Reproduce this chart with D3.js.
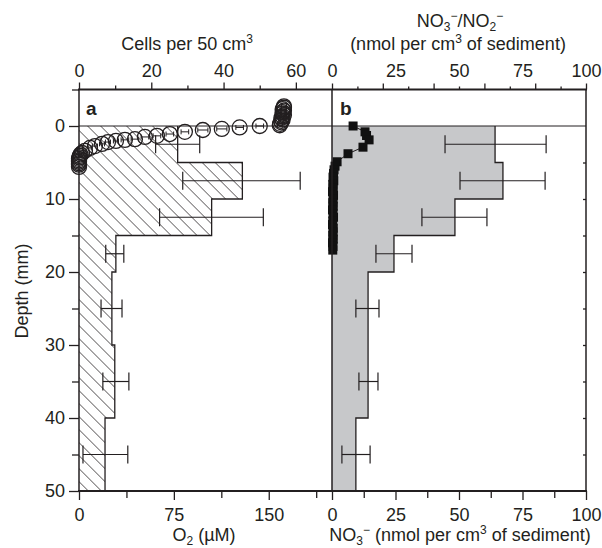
<!DOCTYPE html>
<html>
<head>
<meta charset="utf-8">
<script src="https://cdn.jsdelivr.net/npm/d3@7"></script>
<style>
body { margin: 0; background: #fff; }
svg text { font-family: "Liberation Sans", Arial, Helvetica, sans-serif; fill: #231f20; }
</style>
</head>
<body>
<div id="chart"></div>
<script>
// depth bins (mm) shared by both histograms
const binTop = [0, 5, 10, 15, 20, 30, 40];
const binBottom = [5, 10, 15, 20, 30, 40, 50];
const binMid = [2.5, 7.5, 12.5, 17.5, 25, 35, 45];

// panel a: cells per 50 cm3
const cells = [27.3, 45.2, 36.7, 10.2, 9.1, 9.9, 7.2];
const cellsLo = [21.2, 28.7, 22.3, 7.4, 6.1, 6.6, 1.1];
const cellsHi = [33.4, 61.2, 51.0, 12.4, 11.9, 13.8, 13.5];

// panel a: O2 microprofile (uM) with small error half-widths
const o2Depth = [-2.7, -2.5, -2.3, -2.1, -1.9, -1.7, -1.5, -1.3, -1.1, -0.9, -0.7, -0.5, -0.3, -0.1,
    0.0, 0.2, 0.4, 0.55, 0.8, 1.1, 1.35, 1.5, 1.8, 1.9, 2.05, 2.2, 2.45, 2.75, 3.0, 3.4,
    3.7, 3.9, 4.1, 4.3, 4.5, 4.7, 4.9, 5.1, 5.3, 5.6];
const o2 = [162, 162, 161, 162, 161, 161, 162, 161, 160, 161, 160, 160, 159, 158.7,
    142.9, 127, 112.9, 97.9, 83.7, 71.8, 61.6, 52.1, 44.2, 36.3, 29.2, 22.9, 18.2, 12.6, 8.7, 4.7,
    2.4, 1.2, 0.6, 0.3, 0, 0, 0, 0, 0, 0];
const o2Err = [2, 2, 2, 2, 2, 2, 2, 2, 2, 2, 2, 2, 2, 2,
    3, 3, 4, 4, 3, 3, 3, 3, 3, 3, 2, 2, 2, 2, 1, 1,
    1, 1, 1, 0, 0, 0, 0, 0, 0, 0];

// panel b: NO3- (nmol per cm3 of sediment)
const nitrate = [64.2, 67.3, 48.4, 24.4, 14.2, 14.2, 9.4];
const nitrateLo = [44.5, 50.4, 35.4, 17.3, 9.4, 10.6, 3.9];
const nitrateHi = [84.3, 83.9, 61.0, 31.5, 18.5, 18.1, 15.0];

// panel b: NO3-/NO2- microprofile
const noxDepth = [0.0, 0.8, 1.3, 1.9, 2.9, 3.8, 4.9, 5.5, 6.0, 6.5, 7.0, 7.5, 8.0, 8.5, 9.0, 9.5,
    10.0, 10.5, 11.0, 11.5, 12.0, 12.5, 13.0, 13.5, 14.0, 14.5, 15.0, 15.5, 16.0, 16.5, 17.0];
const nox = [8.3, 13.0, 13.6, 14.6, 12.2, 6.3, 2.0, 1.2, 0.8, 0.6, 0.4, 0.7, 0.3, 0.5, 0.2, 0.6,
    0.4, 0.3, 0.5, 0.2, 0.4, 0.6, 0.3, 0.2, 0.5, 0.4, 0.3, 0.5, 0.2, 0.4, 0.3];

const ink = "#231f20";
const fontFamily = "'Liberation Sans', Arial, Helvetica, sans-serif";

const svg = d3.select("#chart").append("svg").attr("width", 602).attr("height", 548);

const y = d3.scaleLinear().domain([-5, 50]).range([89.5, 491]);
const xO2 = d3.scaleLinear().domain([0, 200]).range([79, 332]);
const xCells = d3.scaleLinear().domain([0, 70]).range([79, 332]);
const xNO3 = d3.scaleLinear().domain([0, 100]).range([332, 586]);

svg.append("defs").append("pattern").
attr("id", "hatch").
attr("patternUnits", "userSpaceOnUse").
attr("width", 9.2).attr("height", 9.2).
attr("patternTransform", "rotate(-45)").
append("line").
attr("x1", 0).attr("y1", 0).attr("x2", 0).attr("y2", 9.2).
attr("stroke", ink).attr("stroke-width", 1.2);

function steps(vals) {
    const pts = [];
    vals.forEach((v, i) => {
        pts.push([v, binTop[i]]);
        pts.push([v, binBottom[i]]);
    });
    return pts;
}

function histogram(vals, xs, fill) {
    const pts = steps(vals);
    svg.append("path").
    attr("d", d3.area().y(d => y(d[1])).x0(xs(0)).x1(d => xs(d[0]))(pts)).
    attr("fill", fill);
    svg.append("path").
    attr("d", d3.line().x(d => xs(d[0])).y(d => y(d[1]))(pts)).
    attr("fill", "none").attr("stroke", ink).attr("stroke-width", 1.3);
}

function errorBars(lo, hi, xs) {
    const g = svg.append("g").attr("stroke", ink).attr("stroke-width", 1.2);
    binMid.forEach((d, i) => {
        g.append("line").attr("x1", xs(lo[i])).attr("x2", xs(hi[i])).attr("y1", y(d)).attr("y2", y(d));
        g.append("line").attr("x1", xs(lo[i])).attr("x2", xs(lo[i])).attr("y1", y(d) - 9).attr("y2", y(d) + 9);
        g.append("line").attr("x1", xs(hi[i])).attr("x2", xs(hi[i])).attr("y1", y(d) - 9).attr("y2", y(d) + 9);
    });
}

histogram(cells, xCells, "url(#hatch)");
histogram(nitrate, xNO3, "#c7c8ca");
errorBars(cellsLo, cellsHi, xCells);
errorBars(nitrateLo, nitrateHi, xNO3);

// sediment surface
svg.append("line").
attr("x1", 79).attr("x2", 586).attr("y1", y(0)).attr("y2", y(0)).
attr("stroke", ink).attr("stroke-width", 1);

// O2 circles with tiny error bars
const o2g = svg.append("g").attr("stroke", ink);
o2.forEach((v, i) => {
    if (o2Err[i] === 0) return;
    const cy = y(o2Depth[i]);
    o2g.append("line").attr("x1", xO2(v - o2Err[i])).attr("x2", xO2(v + o2Err[i])).attr("y1", cy).attr("y2", cy).attr("stroke-width", 1);
    o2g.append("line").attr("x1", xO2(v - o2Err[i])).attr("x2", xO2(v - o2Err[i])).attr("y1", cy - 2.5).attr("y2", cy + 2.5).attr("stroke-width", 1);
    o2g.append("line").attr("x1", xO2(v + o2Err[i])).attr("x2", xO2(v + o2Err[i])).attr("y1", cy - 2.5).attr("y2", cy + 2.5).attr("stroke-width", 1);
});
o2g.selectAll("circle").data(o2).join("circle").
attr("cx", d => xO2(d)).
attr("cy", (d, i) => y(o2Depth[i])).
attr("r", 7.5).
attr("fill", "none").attr("stroke-width", 1.3);

// NOx squares
const noxPts = nox.map((v, i) => [v, noxDepth[i]]);
svg.append("path").
attr("d", d3.line().x(d => xNO3(d[0])).y(d => y(d[1]))(noxPts)).
attr("fill", "none").attr("stroke", ink).attr("stroke-width", 1);
svg.append("g").selectAll("rect").data(noxPts).join("rect").
attr("x", d => xNO3(d[0]) - 4.5).
attr("y", d => y(d[1]) - 4.5).
attr("width", 9).attr("height", 9).
attr("fill", "#111");

// axes
function drawAxis(gen, tx, ty) {
    const g = svg.append("g").attr("transform", "translate(" + tx + "," + ty + ")").call(gen);
    g.select(".domain").remove();
    g.attr("font-size", 18).attr("font-family", fontFamily);
    g.selectAll("line").attr("stroke", ink).attr("stroke-width", 1.3);
    g.selectAll("text").attr("fill", ink);
    return g;
}

// bottom
drawAxis(d3.axisBottom(xO2).tickValues([0, 75, 150]).tickSize(9).tickPadding(8), 0, 491);
drawAxis(d3.axisBottom(xO2).tickValues([37.5, 112.5, 187.5]).tickSize(7).tickFormat(""), 0, 491);
drawAxis(d3.axisBottom(xNO3).tickValues([0, 25, 50, 75, 100]).tickSize(9).tickPadding(8), 0, 491);
drawAxis(d3.axisBottom(xNO3).tickValues([12.5, 37.5, 62.5, 87.5]).tickSize(7).tickFormat(""), 0, 491);
// top
drawAxis(d3.axisTop(xCells).tickValues([0, 20, 40, 60]).tickSize(7).tickPadding(5.5), 0, 89.5);
drawAxis(d3.axisTop(xCells).tickValues([10, 30, 50]).tickSize(4).tickFormat(""), 0, 89.5);
drawAxis(d3.axisTop(xNO3).tickValues([0, 20, 40, 60, 80, 100]).tickSize(6).tickFormat(""), 0, 89.5);
drawAxis(d3.axisTop(xNO3).tickValues([10, 30, 50, 70, 90]).tickSize(3).tickFormat(""), 0, 89.5);
drawAxis(d3.axisTop(xNO3).tickValues([0, 25, 50, 75, 100]).tickSize(0).tickPadding(12.5), 0, 89.5);
// left
drawAxis(d3.axisLeft(y).tickValues([0, 10, 20, 30, 40, 50]).tickSize(10).tickPadding(4), 79, 0);
drawAxis(d3.axisLeft(y).tickValues([-5, 5, 15, 25, 35, 45]).tickSize(7).tickFormat(""), 79, 0);
// right (inward)
drawAxis(d3.axisRight(y).tickValues([5, 10, 15, 20, 25, 30, 35, 40, 45]).tickSize(-3).tickFormat(""), 586, 0);

// frame
const frame = svg.append("g").attr("stroke", ink);
frame.append("line").attr("x1", 78).attr("x2", 587).attr("y1", y(-5)).attr("y2", y(-5)).attr("stroke-width", 2);
frame.append("line").attr("x1", 78).attr("x2", 587).attr("y1", y(50)).attr("y2", y(50)).attr("stroke-width", 2);
[79, 332, 586].forEach(x => {
    frame.append("line").attr("x1", x).attr("x2", x).attr("y1", y(-5)).attr("y2", y(50)).attr("stroke-width", 1.5);
});

// labels
function richText(x, yy, parts, rotate) {
    const t = svg.append("text").
    attr("text-anchor", "middle").
    attr("font-size", 18).
    attr("transform", "translate(" + x + "," + yy + ")" + (rotate ? " rotate(" + rotate + ")" : ""));
    let shift = 0;
    parts.forEach(([s, k]) => {
        const target = k === "sub" ? 4 : k === "sup" ? -7 : 0;
        t.append("tspan").
        attr("dy", target - shift).
        attr("font-size", k === "n" ? null : 12).
        text(s);
        shift = target;
    });
}

richText(187, 50, [["Cells per 50 cm", "n"], ["3", "sup"]]);
richText(460, 27, [["NO", "n"], ["3", "sub"], ["\u2212", "sup"], ["/NO", "n"], ["2", "sub"], ["\u2212", "sup"]]);
richText(458, 50, [["(nmol per cm", "n"], ["3", "sup"], [" of sediment)", "n"]]);
richText(204, 541, [["O", "n"], ["2", "sub"], [" (\u00b5M)", "n"]]);
richText(460, 541, [["NO", "n"], ["3", "sub"], ["\u2212", "sup"], [" (nmol per cm", "n"], ["3", "sup"], [" of sediment)", "n"]]);
richText(28, 291, [["Depth (mm)", "n"]], -90);

svg.append("text").attr("x", 86).attr("y", 115).attr("font-size", 19).attr("font-weight", "bold").text("a");
svg.append("text").attr("x", 340).attr("y", 115).attr("font-size", 19).attr("font-weight", "bold").text("b");
</script>
</body>
</html>
